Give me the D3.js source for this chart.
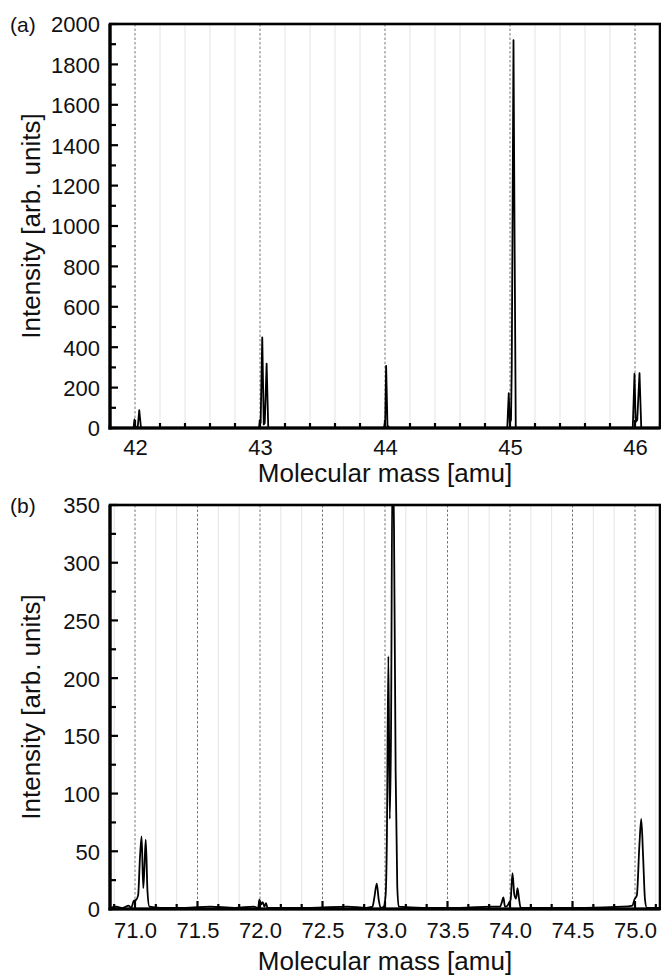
<!DOCTYPE html>
<html>
<head>
<meta charset="utf-8">
<script src="https://cdn.jsdelivr.net/npm/d3@7"></script>
<style>
  html, body { margin: 0; padding: 0; background: #fff; }
  svg { display: block; font-family: "Liberation Sans", Arial, sans-serif; }
</style>
</head>
<body>
<svg id="chart" width="661" height="977"></svg>
<script>
// ---------- Data ----------
// Panel (a)
const aMass = [41.80, 41.90, 41.988, 41.996, 42.004, 42.022, 42.034, 42.048, 42.50,
  42.992, 42.999, 43.005, 43.018, 43.030, 43.038, 43.053, 43.066, 43.50,
  43.992, 44.002, 44.009, 44.020, 44.028, 44.036, 44.50,
  44.978, 44.990, 44.998, 45.008, 45.014, 45.028, 45.036, 45.046, 45.50,
  45.982, 45.996, 46.005, 46.018, 46.036, 46.050, 46.20];
const aIntensity = [0, 0, 0, 42, 3, 6, 88, 0, 0,
  0, 40, 25, 448, 18, 25, 318, 0, 0,
  0, 40, 308, 5, 8, 0, 0,
  0, 172, 25, 40, 300, 1920, 1000, 0, 0,
  0, 268, 30, 40, 272, 0, 0];
const aXTicks = [42, 43, 44, 45, 46];
const aYTicks = [0, 200, 400, 600, 800, 1000, 1200, 1400, 1600, 1800, 2000];

// Panel (b)
const bMass = [70.80, 70.85, 70.90, 70.95, 70.97, 70.99, 71.010, 71.025, 71.040, 71.053, 71.066, 71.075, 71.086, 71.100, 71.115,
  71.20, 71.40, 71.60, 71.80, 71.95, 71.985, 71.995, 72.010, 72.022, 72.035, 72.048, 72.060, 72.10,
  72.40, 72.70, 72.85, 72.90, 72.915, 72.934, 72.950, 72.965, 72.99, 73.005, 73.015, 73.027, 73.038,
  73.048, 73.060, 73.072, 73.085, 73.098, 73.11, 73.30, 73.60, 73.85, 73.92, 73.935, 73.947, 73.960,
  73.98, 73.995, 74.005, 74.020, 74.035, 74.048, 74.060, 74.072, 74.085, 74.30, 74.60, 74.90, 74.98,
  74.995, 75.015, 75.035, 75.050, 75.065, 75.080, 75.095, 75.20];
const bIntensity = [1, 2, 1, 3, 1, 7, 8, 12, 45, 63, 18, 35, 60, 15, 2,
  1, 1, 2, 1, 2, 1, 8, 4, 6, 2, 5, 1, 1,
  1, 2, 1, 2, 10, 22, 8, 1, 2, 12, 60, 219, 78,
  150, 390, 330, 120, 20, 2, 1, 1, 2, 2, 6, 10, 2,
  3, 6, 8, 31, 12, 9, 18, 9, 1, 1, 1, 2, 3,
  8, 12, 55, 78, 45, 8, 1, 1];
const bXTicks = [71.0, 71.5, 72.0, 72.5, 73.0, 73.5, 74.0, 74.5, 75.0];
const bYTicks = [0, 50, 100, 150, 200, 250, 300, 350];

// ---------- Drawing ----------
const svg = d3.select("#chart");

function panel(cfg) {
  const x = d3.scaleLinear().domain(cfg.xDomain).range([110, 660]);
  const y = d3.scaleLinear().domain(cfg.yDomain).range([cfg.bottom, cfg.top]);
  const g = svg.append("g");

  // minor vertical gridlines
  g.append("g").selectAll("line").data(cfg.xMinor).join("line")
    .attr("x1", d => x(d)).attr("x2", d => x(d))
    .attr("y1", cfg.top).attr("y2", cfg.bottom)
    .attr("stroke", "#e4e4e4").attr("stroke-width", 1);
  // major dashed gridlines
  g.append("g").selectAll("line").data(cfg.xTicks).join("line")
    .attr("x1", d => x(d)).attr("x2", d => x(d))
    .attr("y1", cfg.top).attr("y2", cfg.bottom)
    .attr("stroke", "#777").attr("stroke-width", 1)
    .attr("stroke-dasharray", "2.5,2");

  // clip
  const clipId = "clip-" + cfg.name;
  svg.append("clipPath").attr("id", clipId).append("rect")
    .attr("x", 110).attr("y", cfg.top).attr("width", 550).attr("height", cfg.bottom - cfg.top);

  const pts = cfg.mass.map((m, i) => [m, cfg.intensity[i]]);
  const line = d3.line().x(d => x(d[0])).y(d => y(d[1])).curve(cfg.curve);
  g.append("path").datum(pts)
    .attr("clip-path", `url(#${clipId})`)
    .attr("d", line).attr("fill", "none")
    .attr("stroke", "#000").attr("stroke-width", 1.8).attr("stroke-linejoin", "round");

  // axes
  const xAxis = d3.axisBottom(x).tickValues(cfg.xTicks).tickFormat(cfg.xFormat).tickSize(0).tickPadding(0);
  const xa = g.append("g").attr("transform", `translate(0,${cfg.bottom})`).call(xAxis);
  xa.select(".domain").remove();
  xa.selectAll("text").attr("font-size", 22).attr("fill", "#111")
    .attr("dy", null).attr("y", cfg.xLabelOffset);

  const yAxis = d3.axisLeft(y).tickValues(cfg.yTicks).tickFormat(d3.format("d")).tickSize(0).tickPadding(0);
  const ya = g.append("g").attr("transform", "translate(100,0)").call(yAxis);
  ya.select(".domain").remove();
  ya.selectAll("text").attr("font-size", 22).attr("fill", "#111").attr("x", 0).attr("dy", "0.36em");

  // inward tick marks
  const tickG = g.append("g").attr("stroke", "#000").attr("stroke-width", 2.2);
  tickG.selectAll(".xmaj").data(cfg.xTicks).join("line")
    .attr("x1", d => x(d)).attr("x2", d => x(d))
    .attr("y1", cfg.bottom).attr("y2", cfg.bottom - 8);
  tickG.selectAll(".xmin").data(cfg.xMinor).join("line")
    .attr("x1", d => x(d)).attr("x2", d => x(d))
    .attr("y1", cfg.bottom).attr("y2", cfg.bottom - 5);
  tickG.selectAll(".ymaj").data(cfg.yTicks).join("line")
    .attr("x1", 110).attr("x2", 118)
    .attr("y1", d => y(d)).attr("y2", d => y(d));
  tickG.selectAll(".ymin").data(cfg.yMinor).join("line")
    .attr("x1", 110).attr("x2", 116)
    .attr("y1", d => y(d)).attr("y2", d => y(d));

  // frame
  g.append("rect").attr("x", 110).attr("y", cfg.top).attr("width", 550).attr("height", cfg.bottom - cfg.top)
    .attr("fill", "none").attr("stroke", "#000").attr("stroke-width", 2.6);
  g.append("line").attr("x1", 110).attr("x2", 110).attr("y1", cfg.top).attr("y2", cfg.bottom + 1.5)
    .attr("stroke", "#000").attr("stroke-width", 3.2);
  g.append("line").attr("x1", 108.5).attr("x2", 660).attr("y1", cfg.bottom).attr("y2", cfg.bottom)
    .attr("stroke", "#000").attr("stroke-width", 3.2);

  // titles
  svg.append("text").attr("x", 385).attr("y", cfg.xTitleY).attr("text-anchor", "middle")
    .attr("font-size", 26).attr("fill", "#111").text("Molecular mass [amu]");
  svg.append("text").attr("transform", `translate(40,${(cfg.top + cfg.bottom) / 2}) rotate(-90)`)
    .attr("text-anchor", "middle").attr("font-size", 26).attr("fill", "#111")
    .text("Intensity [arb. units]");
  svg.append("text").attr("x", 10).attr("y", cfg.top).attr("dy", "0.36em")
    .attr("font-size", 21).attr("fill", "#111").text(cfg.label);
}

panel({
  name: "a", label: "(a)", top: 24, bottom: 428,
  xDomain: [41.8, 46.2], yDomain: [0, 2000],
  xTicks: aXTicks, yTicks: aYTicks,
  xMinor: d3.range(41.8, 46.21, 0.2).filter(v => Math.abs(v - Math.round(v)) > 0.01),
  yMinor: d3.range(100, 2000, 200),
  xFormat: d3.format("d"),
  mass: aMass, intensity: aIntensity, curve: d3.curveLinear,
  xLabelOffset: 27, xTitleY: 482
});

panel({
  name: "b", label: "(b)", top: 505, bottom: 909,
  xDomain: [70.8, 75.2], yDomain: [0, 350],
  xTicks: bXTicks, yTicks: bYTicks,
  xMinor: d3.range(0, 27).map(i => 71 - 1 / 6 + i / 6).filter(v => v > 70.8 && v < 75.2 && Math.abs(v * 2 - Math.round(v * 2)) > 0.01),
  yMinor: d3.range(25, 350, 50),
  xFormat: d3.format(".1f"),
  mass: bMass, intensity: bIntensity, curve: d3.curveMonotoneX,
  xLabelOffset: 29, xTitleY: 970
});
</script>
</body>
</html>
